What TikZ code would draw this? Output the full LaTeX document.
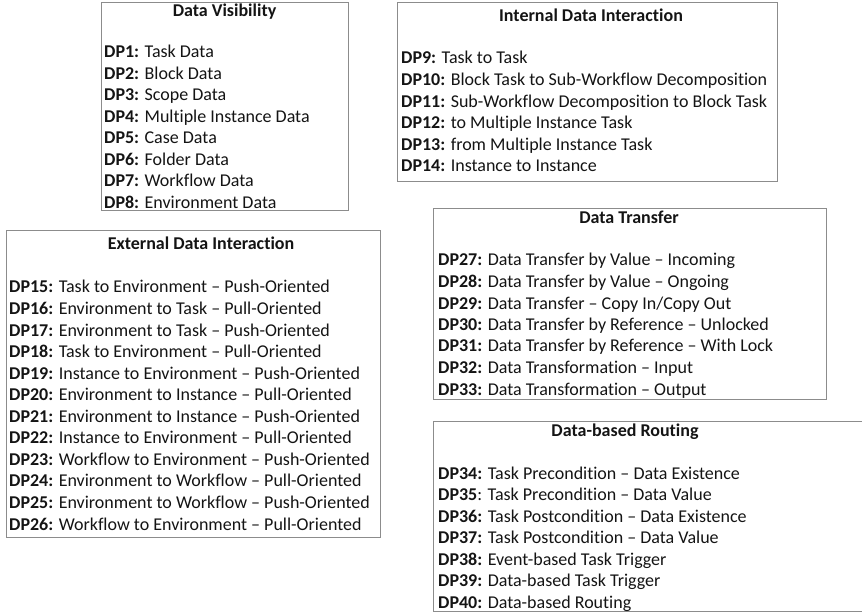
\documentclass[tikz,border=0pt]{standalone}
\usepackage{fontspec}
\setmainfont{Carlito}[Ligatures={TeX,NoCommon}]
\definecolor{framegray}{RGB}{140,140,140}
\definecolor{inkblack}{RGB}{20,20,20}
\tikzset{
  panel/.style={draw=framegray, line width=1pt, inner sep=0pt, anchor=north west},
  paneltitle/.style={anchor=base, inner sep=0pt, text=inkblack, font=\fontsize{18}{21}\selectfont\bfseries},
  entry/.style={anchor=base west, inner sep=0pt, text=inkblack, font=\fontsize{18}{21}\selectfont},
}
\newcommand{\dpl}[1]{\textbf{DP#1:}}
\begin{document}
\begin{tikzpicture}[x=1pt, y=-1pt]
\useasboundingbox (0,0) rectangle (862,612);

% frames
\node[panel, minimum width=247pt, minimum height=208pt] (visbox) at (101,2) {};
\node[panel, minimum width=380pt, minimum height=179pt] (intbox) at (397,2) {};
\node[panel, minimum width=374pt, minimum height=307pt] (extbox) at (6,230) {};
\node[panel, minimum width=393pt, minimum height=191pt] (trfbox) at (433,208) {};
\node[panel, minimum width=440pt, minimum height=190pt] (rtbox) at (433,421) {};

% titles
\node[paneltitle] (vistitle) at (224.5,17) {Data Visibility};
\node[paneltitle] (inttitle) at (591,22) {Internal Data Interaction};
\node[paneltitle] (exttitle) at (201,250) {External Data Interaction};
\node[paneltitle] (trftitle) at (629,224) {Data Transfer};
\node[paneltitle] (rttitle) at (625,436) {Data-based Routing};

% Data Visibility
\foreach \t [count=\k from 1] in {
  {\dpl{1} Task Data},
  {\dpl{2} Block Data},
  {\dpl{3} Scope Data},
  {\dpl{4} Multiple Instance Data},
  {\dpl{5} Case Data},
  {\dpl{6} Folder Data},
  {\dpl{7} Workflow Data},
  {\dpl{8} Environment Data}}
  \node[entry] (dp\k) at (104, {58+21.45*(\k-1)}) {\t};

% Internal Data Interaction
\foreach \t [count=\k from 9] in {
  {\dpl{9} Task to Task},
  {\dpl{10} Block Task to Sub-Workflow Decomposition},
  {\dpl{11} Sub-Workflow Decomposition to Block Task},
  {\dpl{12} to Multiple Instance Task},
  {\dpl{13} from Multiple Instance Task},
  {\dpl{14} Instance to Instance}}
  \node[entry] (dp\k) at (401, {64+21.6*(\k-9)}) {\t};

% External Data Interaction
\foreach \t [count=\k from 15] in {
  {\dpl{15} Task to Environment – Push-Oriented},
  {\dpl{16} Environment to Task – Pull-Oriented},
  {\dpl{17} Environment to Task – Push-Oriented},
  {\dpl{18} Task to Environment – Pull-Oriented},
  {\dpl{19} Instance to Environment – Push-Oriented},
  {\dpl{20} Environment to Instance – Pull-Oriented},
  {\dpl{21} Environment to Instance – Push-Oriented},
  {\dpl{22} Instance to Environment – Pull-Oriented},
  {\dpl{23} Workflow to Environment – Push-Oriented},
  {\dpl{24} Environment to Workflow – Pull-Oriented},
  {\dpl{25} Environment to Workflow – Push-Oriented},
  {\dpl{26} Workflow to Environment – Pull-Oriented}}
  \node[entry] (dp\k) at (9, {293+21.55*(\k-15)}) {\t};

% Data Transfer
\foreach \t [count=\k from 27] in {
  {\dpl{27} Data Transfer by Value – Incoming},
  {\dpl{28} Data Transfer by Value – Ongoing},
  {\dpl{29} Data Transfer – Copy In/Copy Out},
  {\dpl{30} Data Transfer by Reference – Unlocked},
  {\dpl{31} Data Transfer by Reference – With Lock},
  {\dpl{32} Data Transformation – Input},
  {\dpl{33} Data Transformation – Output}}
  \node[entry] (dp\k) at (438, {266+21.5*(\k-27)}) {\t};

% Data-based Routing
\foreach \t [count=\k from 34] in {
  {\dpl{34} Task Precondition – Data Existence},
  {\textbf{DP35}: Task Precondition – Data Value},
  {\dpl{36} Task Postcondition – Data Existence},
  {\dpl{37} Task Postcondition – Data Value},
  {\dpl{38} Event-based Task Trigger},
  {\dpl{39} Data-based Task Trigger},
  {\dpl{40} Data-based Routing}}
  \node[entry] (dp\k) at (438, {479+21.5*(\k-34)}) {\t};
\end{tikzpicture}
\end{document}
